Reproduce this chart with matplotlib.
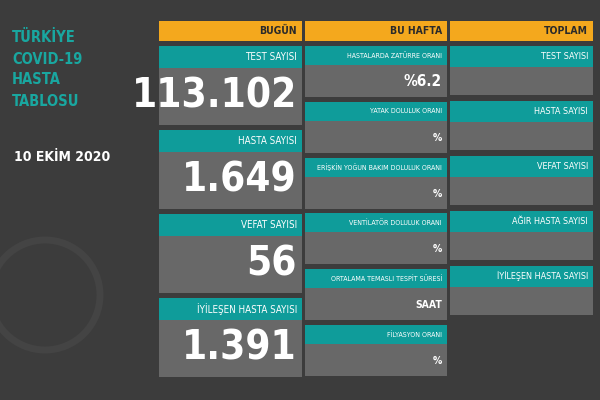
import matplotlib.pyplot as plt
from matplotlib.patches import Rectangle

# data
headers = ["BUGÜN", "BU HAFTA", "TOPLAM"]
today_labels = ["TEST SAYISI", "HASTA SAYISI", "VEFAT SAYISI", "İYİLEŞEN HASTA SAYISI"]
today_values = ["113.102", "1.649", "56", "1.391"]
week_labels = ["HASTALARDA ZATÜRRE ORANI", "YATAK DOLULUK ORANI",
               "ERİŞKİN YOĞUN BAKIM DOLULUK ORANI", "VENTİLATÖR DOLULUK ORANI",
               "ORTALAMA TEMASLI TESPİT SÜRESİ", "FİLYASYON ORANI"]
week_values = ["%6.2", "%", "%", "%", "SAAT", "%"]
total_labels = ["TEST SAYISI", "HASTA SAYISI", "VEFAT SAYISI",
                "AĞIR HASTA SAYISI", "İYİLEŞEN HASTA SAYISI"]
title_lines = ["TÜRKİYE", "COVID-19", "HASTA", "TABLOSU"]
date_text = "10 EKİM 2020"

BG = "#3c3c3c"
ORANGE = "#f4a81d"
TEAL = "#0f9c9a"
GRAY = "#686868"
FONT = "DejaVu Sans"
ST = "condensed"

fig = plt.figure(figsize=(6, 4), dpi=100, facecolor=BG)
ax = fig.add_axes([0, 0, 1, 1])
ax.set_xlim(0, 600)
ax.set_ylim(400, 0)
ax.axis("off")

def rect(x0, y0, x1, y1, c):
    ax.add_patch(Rectangle((x0, y0), x1 - x0, y1 - y0, facecolor=c, edgecolor="none"))

def txt(x, y, s, size, color="white", bold=False, ha="right"):
    ax.text(x, y, s, ha=ha, va="center", color=color, fontsize=size,
            fontweight="bold" if bold else "normal", family=FONT, fontstretch=ST)

cols = [(159, 302), (305, 447), (450, 593)]
for (x0, x1), h in zip(cols, headers):
    rect(x0, 21, x1, 41, ORANGE)
    txt(x1 - 5, 31, h, 7.5, color="#2a2a2a", bold=True)

# column 1
x0, x1 = cols[0]
for i, (lab, val) in enumerate(zip(today_labels, today_values)):
    top = 46 + i * 84
    rect(x0, top, x1, top + 22, TEAL)
    rect(x0, top + 22, x1, top + 79, GRAY)
    txt(x1 - 5, top + 11, lab, 7)
    txt(x1 - 5, top + 51, val, 29, bold=True)

# column 2
x0, x1 = cols[1]
for i, (lab, val) in enumerate(zip(week_labels, week_values)):
    top = 46 + i * 55.8
    rect(x0, top, x1, top + 19, TEAL)
    rect(x0, top + 19, x1, top + 51, GRAY)
    txt(x1 - 5, top + 9.5, lab, 5)
    txt(x1 - 5, top + 36, val, 11 if val == "%6.2" else 7.5, bold=True)

# column 3
x0, x1 = cols[2]
for i, lab in enumerate(total_labels):
    top = 46 + i * 55
    rect(x0, top, x1, top + 21, TEAL)
    rect(x0, top + 21, x1, top + 49, GRAY)
    txt(x1 - 5, top + 10.5, lab, 6.5)

# title block
for i, line in enumerate(title_lines):
    txt(12, 38 + i * 21, line, 10.5, color="#19a7a0", bold=True, ha="left")
txt(14, 157, date_text, 10, bold=True, ha="left")

# faint emblem
ax.add_patch(plt.Circle((45, 295), 55, facecolor="none", edgecolor="#444444", lw=5))

fig.savefig("out.png", dpi=100, facecolor=BG)
